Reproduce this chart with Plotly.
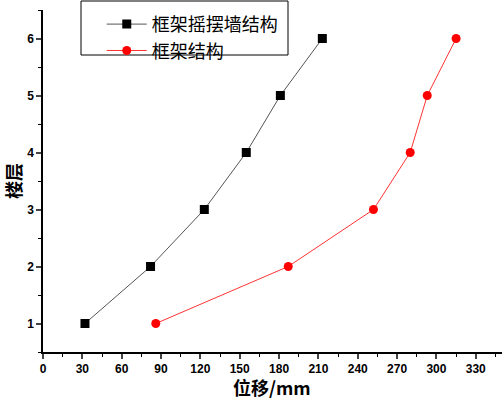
import plotly.graph_objects as go

floors = [1, 2, 3, 4, 5, 6]
disp_rocking = [32, 82, 123, 155, 181, 213]
disp_frame = [86, 187, 252, 280, 293, 315]
x_ticks = list(range(0, 331, 30))
y_ticks = [1, 2, 3, 4, 5, 6]

fig = go.Figure()
fig.add_trace(go.Scatter(x=disp_rocking, y=floors, mode="lines+markers", name="框架摇摆墙结构",
                         line=dict(color="#555555", width=1),
                         marker=dict(symbol="square", size=9, color="black")))
fig.add_trace(go.Scatter(x=disp_frame, y=floors, mode="lines+markers", name="框架结构",
                         line=dict(color="#ff3333", width=1),
                         marker=dict(symbol="circle", size=9, color="red")))

tickfont = dict(family="Liberation Sans", size=12, color="black", weight="bold")
titlefont = dict(family="Noto Sans CJK SC", size=18, color="black", weight="bold")
fig.update_layout(
    width=503, height=399,
    margin=dict(l=43, r=1, t=10, b=47),
    paper_bgcolor="white", plot_bgcolor="white",
    showlegend=True,
    legend=dict(x=0.128, y=1.012, xanchor="left", yanchor="top",
                borderwidth=0, bgcolor="rgba(0,0,0,0)",
                font=dict(family="Noto Sans CJK SC", size=18, color="black"),
                itemwidth=40, tracegroupgap=0),
    shapes=[dict(type="rect", xref="paper", yref="paper", x0=0.0828, x1=0.5338, y0=0.8684, y1=1.0263,
                 line=dict(color="black", width=1), fillcolor="white", layer="below")],
    annotations=[dict(text="位移/mm", xref="paper", yref="paper", x=0.499, y=-0.102,
                      xanchor="center", yanchor="middle", showarrow=False, font=titlefont)],
    xaxis=dict(range=[0, 350], tickvals=x_ticks, ticks="outside", ticklen=5, tickwidth=1.5,
               showline=True, linecolor="black", linewidth=1.5, showgrid=False, zeroline=False,
               tickfont=tickfont, automargin=False,
               minor=dict(dtick=15, tick0=0, ticks="outside", ticklen=3, tickcolor="black", tickwidth=1)),
    yaxis=dict(range=[0.5, 6.5], tickvals=y_ticks, ticks="outside", ticklen=5, tickwidth=1.5,
               showline=True, linecolor="black", linewidth=1.5, showgrid=False, zeroline=False,
               tickfont=tickfont, automargin=False,
               minor=dict(dtick=0.5, tick0=0.5, ticks="outside", ticklen=3, tickcolor="black", tickwidth=1),
               title=dict(text="楼层", font=titlefont, standoff=6)),
)
fig.write_html("out.html", config={"displayModeBar": False}, post_script="document.body.style.margin='0';")
